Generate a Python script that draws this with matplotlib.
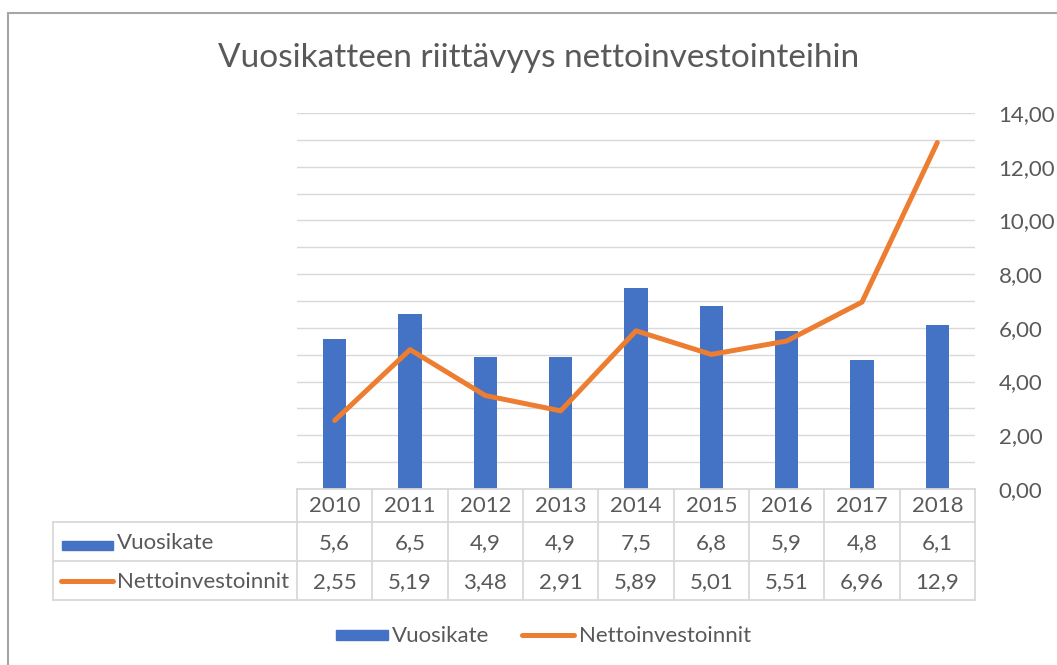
import matplotlib.pyplot as plt
from matplotlib.patches import Rectangle
from matplotlib.lines import Line2D
from matplotlib.transforms import blended_transform_factory

plt.rcParams['font.family'] = ['Lato', 'DejaVu Sans']

# data
vuodet = ['2010', '2011', '2012', '2013', '2014', '2015', '2016', '2017', '2018']
vuosikate = [5.6, 6.5, 4.9, 4.9, 7.5, 6.8, 5.9, 4.8, 6.1]
nettoinvestoinnit = [2.55, 5.19, 3.48, 2.91, 5.89, 5.01, 5.51, 6.96, 12.9]
vuosikate_txt = ['5,6', '6,5', '4,9', '4,9', '7,5', '6,8', '5,9', '4,8', '6,1']
netto_txt = ['2,55', '5,19', '3,48', '2,91', '5,89', '5,01', '5,51', '6,96', '12,9']

sininen = '#4472C4'
oranssi = '#ED7D31'
harmaa = '#595959'
viiva = '#d9d9d9'
fs = 16

W, H = 1057, 665
fig = plt.figure(figsize=(W / 100, H / 100), dpi=100)


def fx(px):
    return px / W


def fy(py):
    return 1 - py / H


# kehys
fig.patches.append(Rectangle((fx(8), fy(700)), 1.2, fy(13) - fy(700), transform=fig.transFigure,
                             fill=False, edgecolor='#a6a6a6', linewidth=1.5))

ax = fig.add_axes([fx(297), fy(489), fx(975) - fx(297), fy(113) - fy(489)])
x = list(range(len(vuodet)))
ax.bar(x, vuosikate, width=0.31, color=sininen, zorder=3)
ax.plot(x, nettoinvestoinnit, color=oranssi, linewidth=3.6, solid_capstyle='round',
        solid_joinstyle='round', zorder=4)
ax.set_xlim(-0.5, len(vuodet) - 0.5)
ax.set_ylim(0, 14)
ax.yaxis.tick_right()
ax.set_yticks(range(0, 15, 2))
ax.set_yticklabels([f'{v},00' for v in range(0, 15, 2)], color=harmaa, fontsize=fs, ha='left')
ax.set_yticks(range(1, 15, 2), minor=True)
ax.grid(axis='y', which='both', color=viiva, linewidth=1, zorder=0)
ax.tick_params(axis='y', which='both', length=0, pad=17)
ax.set_xticks([])
for s in ax.spines.values():
    s.set_visible(False)

fig.text(fx(539), fy(58), 'Vuosikatteen riittävyys nettoinvestointeihin', ha='center', va='center',
         fontsize=24, color=harmaa)

# taulukko
tr = blended_transform_factory(ax.transData, fig.transFigure)
rivit = [489, 522, 561, 600]
kw = dict(color=viiva, linewidth=1.3)
for i in range(len(vuodet) + 1):
    xx = i - 0.5
    fig.add_artist(Line2D([xx, xx], [fy(rivit[0]), fy(rivit[3])], transform=tr, **kw))
fig.add_artist(Line2D([-0.5, len(vuodet) - 0.5], [fy(rivit[0]), fy(rivit[0])], transform=tr, **kw))
for r in rivit[1:]:
    fig.add_artist(Line2D([fx(53), fx(975)], [fy(r), fy(r)], transform=fig.transFigure, **kw))
fig.add_artist(Line2D([fx(53), fx(53)], [fy(rivit[1]), fy(rivit[3])], transform=fig.transFigure, **kw))

for i in x:
    fig.text(i, fy(506), vuodet[i], transform=tr, ha='center', va='center', fontsize=fs, color=harmaa)
    fig.text(i, fy(543), vuosikate_txt[i], transform=tr, ha='center', va='center', fontsize=fs, color=harmaa)
    fig.text(i, fy(582), netto_txt[i], transform=tr, ha='center', va='center', fontsize=fs, color=harmaa)

fig.patches.append(Rectangle((fx(62), fy(550)), fx(113) - fx(62), fy(541) - fy(550),
                             transform=fig.transFigure, color=sininen))
fig.add_artist(Line2D([fx(61), fx(113)], [fy(581), fy(581)], transform=fig.transFigure,
                      color=oranssi, linewidth=3.6, solid_capstyle='round'))
fig.text(fx(117), fy(543), 'Vuosikate', ha='left', va='center', fontsize=fs, color=harmaa)
fig.text(fx(117), fy(582), 'Nettoinvestoinnit', ha='left', va='center', fontsize=fs, color=harmaa)

# selite
fig.patches.append(Rectangle((fx(336), fy(640)), fx(388) - fx(336), fy(630) - fy(640),
                             transform=fig.transFigure, color=sininen))
fig.text(fx(392), fy(636), 'Vuosikate', ha='left', va='center', fontsize=fs, color=harmaa)
fig.add_artist(Line2D([fx(522), fx(574)], [fy(635), fy(635)], transform=fig.transFigure,
                      color=oranssi, linewidth=3.6, solid_capstyle='round'))
fig.text(fx(579), fy(636), 'Nettoinvestoinnit', ha='left', va='center', fontsize=fs, color=harmaa)

fig.savefig('out.png', dpi=100)
